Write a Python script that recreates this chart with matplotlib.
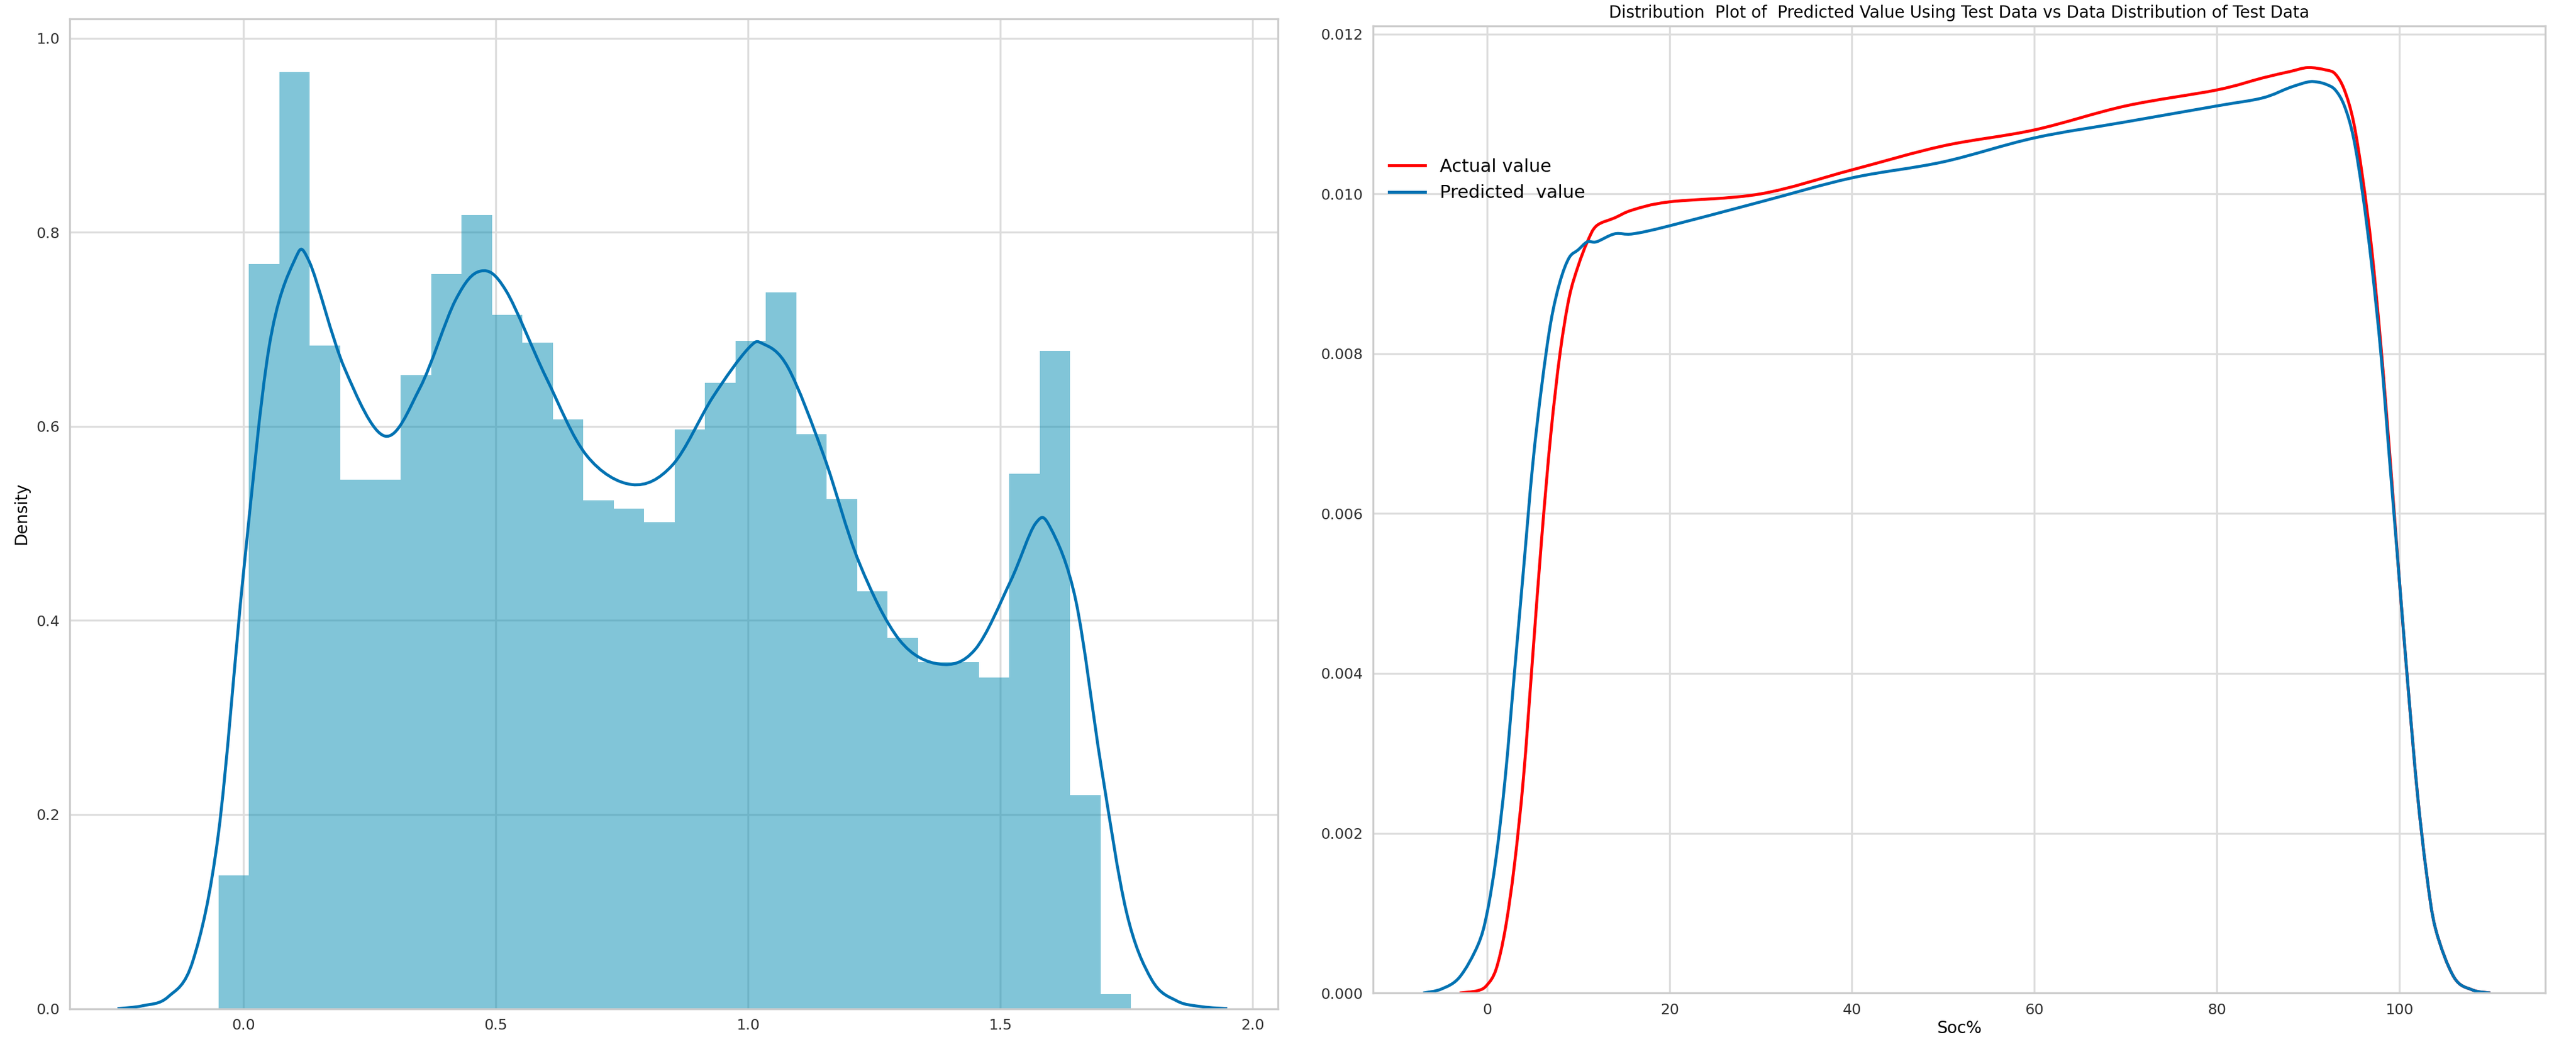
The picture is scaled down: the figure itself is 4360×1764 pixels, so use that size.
import numpy as np
import matplotlib
matplotlib.use("Agg")
import matplotlib.pyplot as plt
from matplotlib.path import Path
from matplotlib.patches import PathPatch

# ---- data ----
bin_start = -0.05
bin_width = 0.0603
hist_heights = [0.137, 0.767, 0.965, 0.683, 0.545, 0.545, 0.653, 0.757, 0.818, 0.715,
                0.686, 0.607, 0.524, 0.515, 0.501, 0.597, 0.645, 0.688, 0.738, 0.592,
                0.525, 0.430, 0.382, 0.357, 0.357, 0.341, 0.551, 0.678, 0.220, 0.015]
kde_x = [-0.25, -0.2, -0.15, -0.1, -0.05, 0.0, 0.05, 0.1, 0.13, 0.2, 0.28, 0.35, 0.42, 0.47,
         0.52, 0.6, 0.68, 0.77, 0.85, 0.93, 1.0, 1.03, 1.08, 1.15, 1.22, 1.3, 1.38, 1.45,
         1.52, 1.57, 1.6, 1.65, 1.7, 1.75, 1.8, 1.85, 1.9, 1.95]
kde_y = [0.0, 0.003, 0.012, 0.05, 0.18, 0.45, 0.68, 0.77, 0.77, 0.66, 0.59, 0.64, 0.73, 0.76,
         0.74, 0.65, 0.57, 0.54, 0.56, 0.63, 0.68, 0.685, 0.66, 0.57, 0.46, 0.38, 0.355, 0.37,
         0.44, 0.50, 0.495, 0.42, 0.25, 0.10, 0.03, 0.008, 0.002, 0.0]

act_x = [-3, -1, 0, 1, 2, 3, 4, 5, 6, 7, 8, 9, 10, 11, 12, 14, 16, 20, 30, 40, 50, 60, 70, 80, 85,
         88, 90, 92, 93, 94, 95, 96, 97, 98, 99, 100, 101, 102, 103, 104, 106, 108, 110]
act_y = [0, 0.00003, 0.0001, 0.0003, 0.0008, 0.0016, 0.0027, 0.0042, 0.0057, 0.0070, 0.0080,
         0.0087, 0.0091, 0.0094, 0.0096, 0.0097, 0.0098, 0.0099, 0.0100, 0.0103, 0.0106,
         0.0108, 0.0111, 0.0113, 0.01145, 0.01153, 0.01158, 0.01155, 0.0115, 0.0113, 0.0109,
         0.0102, 0.0093, 0.0081, 0.0067, 0.0052, 0.0038, 0.0025, 0.0015, 0.0008, 0.0002,
         0.00004, 0.0]
pred_x = [-7, -5, -3, -1, 0, 1, 2, 3, 4, 5, 6, 7, 8, 9, 10, 11, 12, 14, 16, 20, 30, 40, 50, 60,
          70, 80, 85, 88, 90, 91, 92, 93, 94, 95, 96, 97, 98, 99, 100, 101, 102, 103, 104, 106,
          108, 110]
pred_y = [0, 0.00005, 0.0002, 0.0006, 0.0010, 0.0017, 0.0027, 0.0040, 0.0053, 0.0066, 0.0076,
          0.0084, 0.0089, 0.0092, 0.0093, 0.0094, 0.0094, 0.0095, 0.0095, 0.0096, 0.0099,
          0.0102, 0.0104, 0.0107, 0.0109, 0.0111, 0.0112, 0.01133, 0.0114, 0.0114, 0.01137,
          0.0113, 0.0111, 0.0107, 0.0100, 0.0091, 0.0080, 0.0066, 0.0052, 0.0038, 0.0025,
          0.0015, 0.0008, 0.0002, 0.00004, 0.0]

BLUE = "#0072B2"
HIST = "#058DB3"
GRID = "#dddddd"


def smooth_line(ax, xs, ys, color, lw, label=None):
    """Draw a smooth curve through the points using cubic Bezier segments (Catmull-Rom)."""
    pts = ax.transData.transform(np.column_stack([xs, ys]))
    verts = [tuple(pts[0])]
    codes = [Path.MOVETO]
    n = len(pts)
    for i in range(n - 1):
        p0 = pts[i - 1] if i > 0 else pts[i]
        p1, p2 = pts[i], pts[i + 1]
        p3 = pts[i + 2] if i + 2 < n else pts[i + 1]
        c1 = p1 + (p2 - p0) / 6.0
        c2 = p2 - (p3 - p1) / 6.0
        verts += [tuple(c1), tuple(c2), tuple(p2)]
        codes += [Path.CURVE4] * 3
    inv = ax.transData.inverted()
    verts = inv.transform(np.array(verts))
    patch = PathPatch(Path(verts, codes), facecolor="none", edgecolor=color, lw=lw)
    ax.add_patch(patch)
    if label:
        ax.plot([], [], color=color, lw=lw, label=label)


fig = plt.figure(figsize=(21.8, 8.82), dpi=200)
ax1 = fig.add_axes([0.027, 0.032, 0.469, 0.95])
ax2 = fig.add_axes([0.533, 0.047, 0.455, 0.928])

for ax in (ax1, ax2):
    ax.set_facecolor("white")
    ax.grid(True, color=GRID, linewidth=1.2)
    ax.set_axisbelow(True)
    for s in ax.spines.values():
        s.set_color("#cccccc")
        s.set_linewidth(1.2)
    ax.tick_params(length=0, labelsize=9, colors="#333333", pad=6)

ax1.set_xlim(-0.345, 2.05)
ax1.set_ylim(0, 1.02)
ax2.set_xlim(-12.5, 116)
ax2.set_ylim(0, 0.0121)

lefts = [bin_start + i * bin_width for i in range(len(hist_heights))]
ax1.bar(lefts, hist_heights, width=bin_width, align="edge", color=HIST, alpha=0.5,
        linewidth=0)
smooth_line(ax1, kde_x, kde_y, BLUE, 1.8)
ax1.set_xticks([0.0, 0.5, 1.0, 1.5, 2.0])
ax1.set_yticks([0.0, 0.2, 0.4, 0.6, 0.8, 1.0])
ax1.set_ylabel("Density", fontsize=10)

smooth_line(ax2, act_x, act_y, "red", 1.8, "Actual value")
smooth_line(ax2, pred_x, pred_y, BLUE, 1.8, "Predicted  value")
ax2.set_xticks([0, 20, 40, 60, 80, 100])
ax2.set_yticks([0.0, 0.002, 0.004, 0.006, 0.008, 0.010, 0.012])
ax2.yaxis.set_major_formatter(matplotlib.ticker.FormatStrFormatter("%.3f"))
ax2.set_xlabel("Soc%", fontsize=10, labelpad=2)
ax2.set_title("Distribution  Plot of  Predicted Value Using Test Data vs Data Distribution of Test Data",
              fontsize=10, pad=5)
ax2.legend(loc="upper left", bbox_to_anchor=(0.0, 0.88), frameon=False, fontsize=11)

fig.savefig("out.png", dpi=200, facecolor="white")
